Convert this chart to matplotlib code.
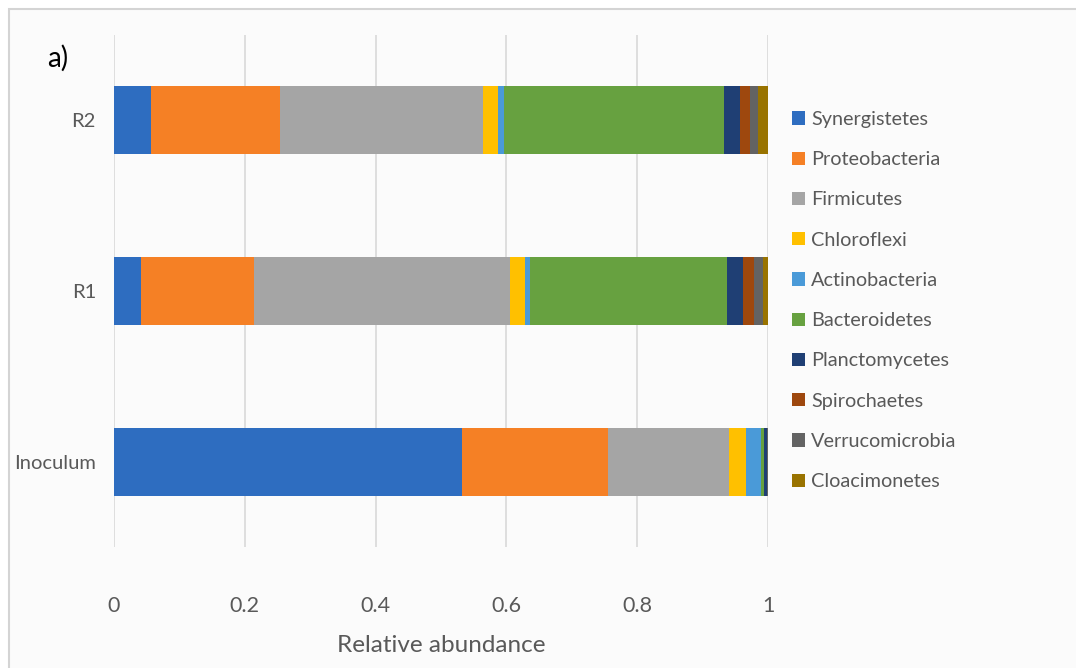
import matplotlib
matplotlib.use("Agg")
import matplotlib.pyplot as plt
from matplotlib.patches import Rectangle
import numpy as np

samples = ["Inoculum", "R1", "R2"]
phyla = ["Synergistetes", "Proteobacteria", "Firmicutes", "Chloroflexi",
         "Actinobacteria", "Bacteroidetes", "Planctomycetes", "Spirochaetes",
         "Verrucomicrobia", "Cloacimonetes"]
colors = ["#2E6DC0", "#F58025", "#A5A5A5", "#FFC000", "#4A9AD8",
          "#67A140", "#1F3F74", "#9E480E", "#636363", "#997300"]

# relative abundance per phylum, ordered as samples (Inoculum, R1, R2)
synergistetes   = [0.532, 0.041, 0.057]
proteobacteria  = [0.224, 0.173, 0.197]
firmicutes      = [0.184, 0.392, 0.310]
chloroflexi     = [0.027, 0.022, 0.023]
actinobacteria  = [0.022, 0.008, 0.010]
bacteroidetes   = [0.005, 0.301, 0.335]
planctomycetes  = [0.004, 0.025, 0.025]
spirochaetes    = [0.001, 0.016, 0.015]
verrucomicrobia = [0.001, 0.015, 0.013]
cloacimonetes   = [0.000, 0.007, 0.015]

series = [synergistetes, proteobacteria, firmicutes, chloroflexi, actinobacteria,
          bacteroidetes, planctomycetes, spirochaetes, verrucomicrobia, cloacimonetes]

xticks = [0, 0.2, 0.4, 0.6, 0.8, 1]
xticklabels = ["0", "0.2", "0.4", "0.6", "0.8", "1"]

plt.rcParams["font.family"] = ["Lato", "DejaVu Sans"]
text_color = "#595959"

W, H = 1076, 668
fig = plt.figure(figsize=(W / 100, H / 100), dpi=100, facecolor="white")

# light panel with thin frame, kept behind the axes
panel = Rectangle((9 / W, -0.05), 1.1, 1 - 9 / H + 0.05,
                  transform=fig.transFigure, facecolor="#fbfbfb",
                  edgecolor="#d4d4d4", linewidth=1.5, zorder=-10)
fig.patches.append(panel)

ax = fig.add_axes([114 / W, 1 - 547 / H, 654 / W, (547 - 35) / H])
ax.set_facecolor("none")
ax.set_zorder(1)

y = np.arange(len(samples))
left = np.zeros(len(samples))
for name, vals, c in zip(phyla, series, colors):
    vals = np.array(vals)
    ax.barh(y, vals, left=left, height=0.4, color=c, label=name, zorder=3)
    left += vals

ax.set_xlim(0, 1)
ax.set_ylim(-0.5, 2.5)
ax.set_xticks(xticks)
ax.set_xticklabels(xticklabels)
ax.set_yticks(y)
ax.set_yticklabels(samples)
ax.grid(axis="x", color="#d9d9d9", linewidth=1.2, zorder=0)
for s in ax.spines.values():
    s.set_visible(False)
ax.tick_params(axis="x", length=0, pad=35, labelsize=15.5, labelcolor=text_color)
ax.tick_params(axis="y", length=0, pad=13, labelsize=14.5, labelcolor=text_color)
ax.set_xlabel("Relative abundance", fontsize=17.5, color=text_color, labelpad=14)

fig.text(47 / W, 1 - 58 / H, "a)", fontsize=20, color="black", va="center", ha="left")

handles, labels = ax.get_legend_handles_labels()
leg = fig.legend(handles, labels, loc="upper left",
                 bbox_to_anchor=(792 / W, 1 - 111 / H),
                 frameon=False, fontsize=14.3, labelcolor=text_color,
                 handlelength=0.65, handleheight=0.65, handletextpad=0.3,
                 labelspacing=1.17, borderpad=0, borderaxespad=0)
leg.set_zorder(2)

fig.savefig("out.png", dpi=100, facecolor=fig.get_facecolor())
